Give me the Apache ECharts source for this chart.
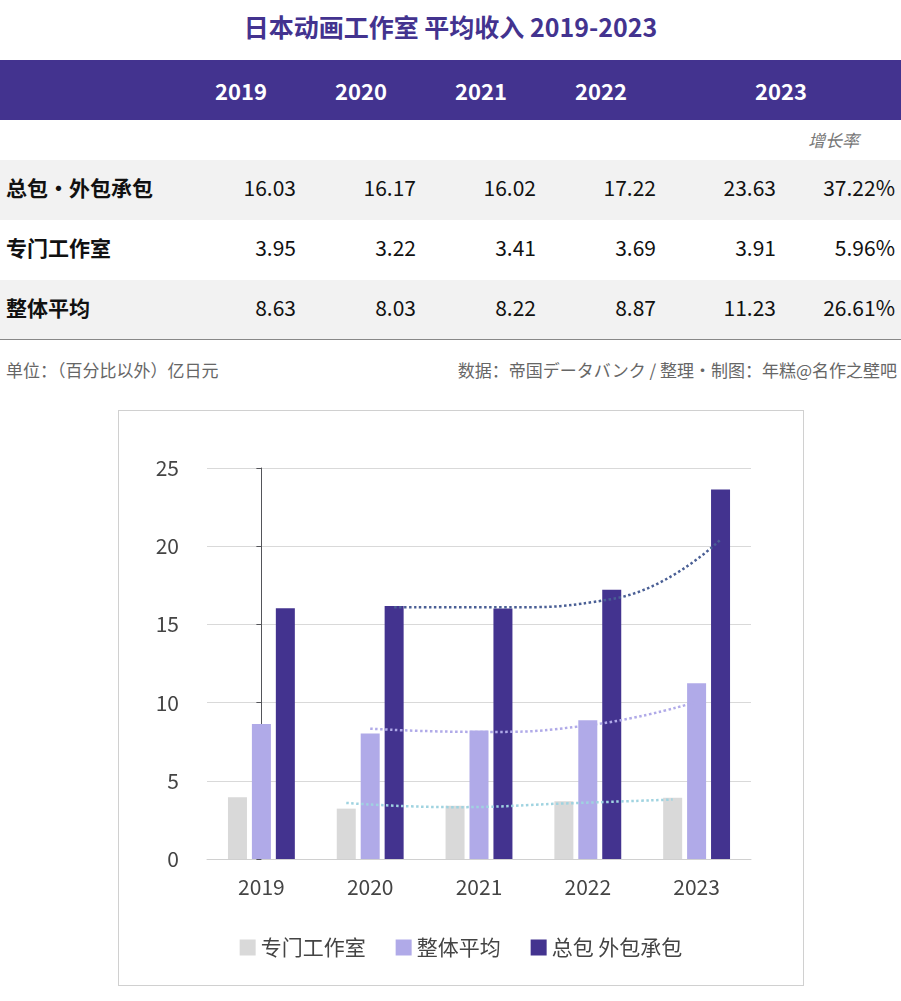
<!DOCTYPE html>
<html><head><meta charset="utf-8">
<script src="https://cdn.jsdelivr.net/npm/echarts@6/dist/echarts.min.js"></script>
<style>
body{margin:0;width:901px;height:1001px;background:#fff;font-family:"Noto Sans CJK SC","Noto Sans",sans-serif;position:relative;overflow:hidden}
.a{position:absolute;white-space:nowrap}
#title{left:0;width:901px;top:8px;text-align:center;font-size:25px;font-weight:bold;color:#43338f}
#head{left:0;top:60px;width:901px;height:60px;background:#43338f}
.yr{top:74px;color:#fff;font-weight:bold;font-size:22px;text-align:center;width:100px}
.row{left:0;width:901px;height:60px}
.lab{left:6px;font-weight:bold;font-size:21px;color:#111}
.v{font-size:21px;color:#111;text-align:right;width:110px}
.note{top:357px;font-size:17px;color:#666}
#chart{left:118px;top:410px;width:684px;height:574px;border:1px solid #d0d0d0}
</style></head><body>
<div class="a" id="title">日本动画工作室 平均收入 2019-2023</div>
<div class="a" id="head"></div>
<div class="a row" style="top:160px;background:#f2f2f2"></div>
<div class="a row" style="top:280px;background:#f2f2f2"></div>
<div class="a" style="left:0;top:339px;width:901px;height:1px;background:#888"></div>
<div class="a" style="left:808px;top:127px;font-size:17px;color:#777;font-style:italic">增长率</div>
<div class="a note" style="left:6px">单位：（百分比以外）亿日元</div>
<div class="a note" style="right:4px">数据：帝国データバンク / 整理・制图：年糕@名作之壁吧</div>
<div class="a" id="chart"></div>
<div id="tbl"></div>
<script>
const years=['2019','2020','2021','2022','2023'];
const rowNames=['总包・外包承包','专门工作室','整体平均'];
const totalPkg=[16.03,16.17,16.02,17.22,23.63];
const specialist=[3.95,3.22,3.41,3.69,3.91];
const overall=[8.63,8.03,8.22,8.87,11.23];
const growth=['37.22%','5.96%','26.61%'];

let h='';
const yx=[191,311,431,551,731];
years.forEach((y,i)=>h+=`<div class="a yr" style="left:${yx[i]}px">${y}</div>`);
const rows=[totalPkg,specialist,overall];
const vr=[296,416,536,656,776];
rows.forEach((r,ri)=>{
  const top=172+ri*60;
  h+=`<div class="a lab" style="top:${top}px">${rowNames[ri]}</div>`;
  r.forEach((v,i)=>h+=`<div class="a v" style="top:${top}px;left:${vr[i]-110}px">${v.toFixed(2)}</div>`);
  h+=`<div class="a v" style="top:${top}px;left:785px">${growth[ri]}</div>`;
});
document.getElementById('tbl').innerHTML=h;

function ma(arr,off){const out=[];for(let i=1;i<arr.length;i++)out.push([i+off,(arr[i]+arr[i-1])/2]);return out;}
const off=0.22;
const c=echarts.init(document.getElementById('chart'));
c.setOption({
  animation:false,
  textStyle:{fontFamily:'Noto Sans CJK SC'},
  grid:{left:88,right:52,top:57,bottom:126},
  legend:{bottom:22,itemWidth:16,itemHeight:16,itemGap:30,icon:'rect',textStyle:{fontSize:21,color:'#444'},
    data:['专门工作室','整体平均','总包 外包承包']},
  xAxis:[{type:'category',data:years,axisTick:{show:false},axisLine:{lineStyle:{color:'#d0d0d0'}},axisLabel:{fontSize:21,color:'#444',margin:18}},
    {type:'value',min:-0.5,max:4.5,show:false}],
  yAxis:{type:'value',min:0,max:25,interval:5,axisLabel:{fontSize:21,color:'#444',margin:28},splitLine:{lineStyle:{color:'#d9d9d9'}}},
  series:[
    {name:'专门工作室',type:'bar',data:specialist,barWidth:19,barGap:'26%',itemStyle:{color:'#d9d9d9'}},
    {name:'整体平均',type:'bar',data:overall,barWidth:19,barGap:'26%',itemStyle:{color:'#b0aae8'}},
    {name:'总包 外包承包',type:'bar',data:totalPkg,barWidth:19,barGap:'26%',itemStyle:{color:'#43338f'}},
    {type:'line',xAxisIndex:1,data:ma(specialist,-off),smooth:true,symbol:'none',lineStyle:{type:'dotted',width:2.5,color:'#9fd3e0'}},
    {type:'line',xAxisIndex:1,data:ma(overall,0),smooth:true,symbol:'none',lineStyle:{type:'dotted',width:2.5,color:'#b0aae8'}},
    {type:'line',xAxisIndex:1,data:ma(totalPkg,off),smooth:true,symbol:'none',lineStyle:{type:'dotted',width:2.5,color:'#4a5f95'}}
  ]
});
</script></body></html>
